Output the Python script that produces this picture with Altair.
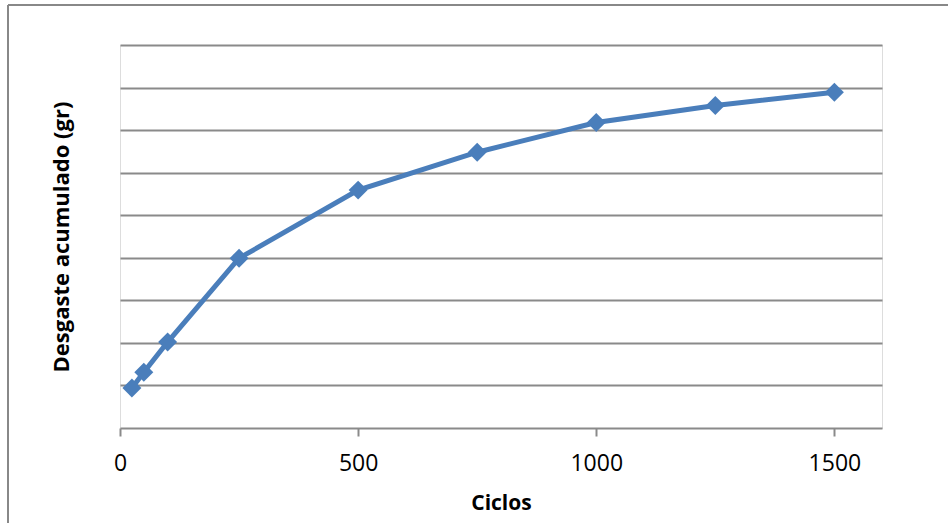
import altair as alt
import pandas as pd

ciclos = [25, 50, 100, 250, 500, 750, 1000, 1250, 1500]
desgaste = [0.94, 1.31, 2.02, 3.99, 5.59, 6.48, 7.18, 7.58, 7.89]

df = pd.DataFrame({"Ciclos": ciclos, "Desgaste": desgaste})

FONT = "Open Sans"
GRID = "#8a8a8a"

base = alt.Chart(df)

line = base.mark_line(color="#4A7EBB", strokeWidth=5).encode(
    x=alt.X("Ciclos:Q",
            scale=alt.Scale(domain=[0, 1600], nice=False),
            axis=alt.Axis(values=[0, 500, 1000, 1500], format="d", title="Ciclos",
                          grid=False, domainColor=GRID, tickColor=GRID, domainWidth=2,
                          tickSize=8, tickWidth=2, labelFontSize=23, labelFont=FONT,
                          labelColor="#000000", labelPadding=16, labelFlush=False,
                          titleFontSize=21, titleFont=FONT, titleFontWeight="bold",
                          titleColor="#000000", titlePadding=17)),
    y=alt.Y("Desgaste:Q",
            scale=alt.Scale(domain=[0, 9], nice=False),
            axis=alt.Axis(values=list(range(1, 10)), title="Desgaste acumulado (gr)",
                          labels=False, ticks=False, domain=False,
                          grid=True, gridColor=GRID, gridWidth=2,
                          titleFontSize=22, titleFont=FONT, titleFontWeight="bold",
                          titleColor="#000000", titlePadding=47)),
)

points = base.mark_point(shape="diamond", filled=True, size=360, color="#4A7EBB", opacity=1).encode(
    x="Ciclos:Q", y="Desgaste:Q"
)

border_top = base.mark_rule(color="#888888", strokeWidth=2).encode(
    x=alt.value(-112), x2=alt.value(900), y=alt.value(-40)
)
border_left = base.mark_rule(color="#888888", strokeWidth=2).encode(
    x=alt.value(-112), y=alt.value(-40), y2=alt.value(560)
)

chart = alt.layer(line, points, border_top, border_left).properties(
    width=762, height=383,
    autosize=alt.AutoSizeParams(type="none"),
    padding={"left": 120, "top": 45, "right": 66, "bottom": 95},
).configure_view(stroke=None).configure(background="white")

chart.save("out.html", embed_options={"renderer": "svg", "actions": False})
